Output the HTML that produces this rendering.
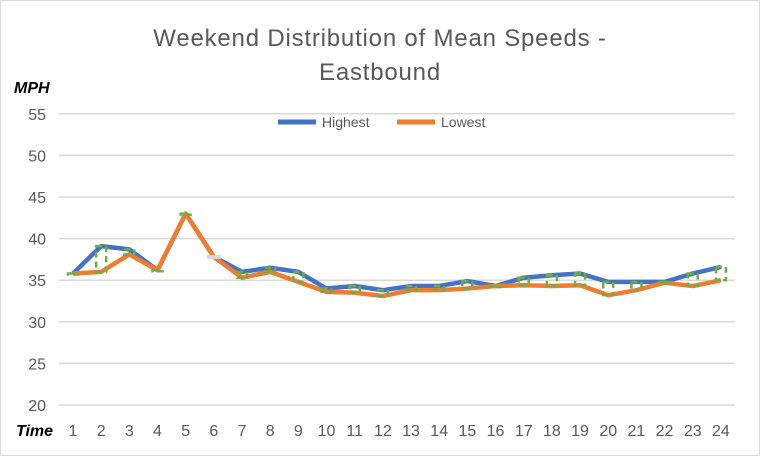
<!DOCTYPE html>
<html><head><meta charset="utf-8"><style>
html,body{margin:0;padding:0;background:#fff;}
svg{display:block;font-family:"Liberation Sans",Calibri,sans-serif;}
</style></head><body>
<svg id="c" width="760" height="456" viewBox="0 0 760 456">
<rect x="0.5" y="0.5" width="759" height="455" fill="#fff" stroke="#d9d9d9"/>
<text x="380" y="46" text-anchor="middle" font-size="24" letter-spacing="0.8" fill="#595959">Weekend Distribution of Mean Speeds -</text>
<text x="380" y="80" text-anchor="middle" font-size="24" letter-spacing="0.8" fill="#595959">Eastbound</text>
<text x="14" y="93" font-size="16" font-weight="bold" font-style="italic" fill="#000">MPH</text>
<text x="16" y="436" font-size="16" font-weight="bold" font-style="italic" fill="#000">Time</text>
<line x1="278" y1="122" x2="316" y2="122" stroke="#4472c4" stroke-width="5"/>
<text x="322" y="127" font-size="14" fill="#595959">Highest</text>
<line x1="397" y1="122" x2="435" y2="122" stroke="#ed7d31" stroke-width="5"/>
<text x="441" y="127" font-size="14" fill="#595959">Lowest</text>
<g id="g"></g>
</svg>
<script>
var g=document.getElementById('g'),s='';
function Y(v){return 405-(v-20)*8.32;}
function X(i){return 73+(i-1)*28.17;}
for(var v=20;v<=55;v+=5){var y=Y(v);
s+='<line x1="59" y1="'+y+'" x2="735" y2="'+y+'" stroke="#d9d9d9" stroke-width="1.5"/>';
s+='<text x="46" y="'+(y+6)+'" text-anchor="end" font-size="16" fill="#595959">'+v+'</text>';}
for(var i=1;i<=24;i++)s+='<text x="'+X(i)+'" y="436" text-anchor="middle" font-size="16" fill="#595959">'+i+'</text>';
var H=[35.8,39.1,38.7,36.2,43,37.8,36,36.5,36,34,34.3,33.8,34.3,34.3,34.9,34.3,35.3,35.6,35.8,34.8,34.8,34.8,35.8,36.6];
var L=[35.8,36,38.1,36.2,43,37.8,35.3,36,34.8,33.6,33.5,33.1,33.8,33.8,34,34.3,34.4,34.3,34.4,33.2,33.8,34.7,34.3,35];
function pl(a,c){var p=a.map(function(v,i){return X(i+1)+','+Y(v)}).join(' ');return '<polyline points="'+p+'" fill="none" stroke="'+c+'" stroke-width="4.5" stroke-linejoin="round"/>';}
s+=pl(H,'#4472c4')+pl(L,'#ed7d31');
for(var i=0;i<24;i++){var x=X(i+1),t=Y(H[i]),b=Y(L[i]);if(i==5){s+='<rect x="'+(x-7)+'" y="'+(t-2)+'" width="14" height="4" fill="#d9d9d9"/>';continue;}
s+='<rect x="'+(x-5)+'" y="'+t+'" width="10" height="'+Math.max(b-t,1)+'" fill="none" stroke="#70ad47" stroke-width="2.5" stroke-dasharray="6,4"/>';}
g.innerHTML=s;
</script>
</body></html>
